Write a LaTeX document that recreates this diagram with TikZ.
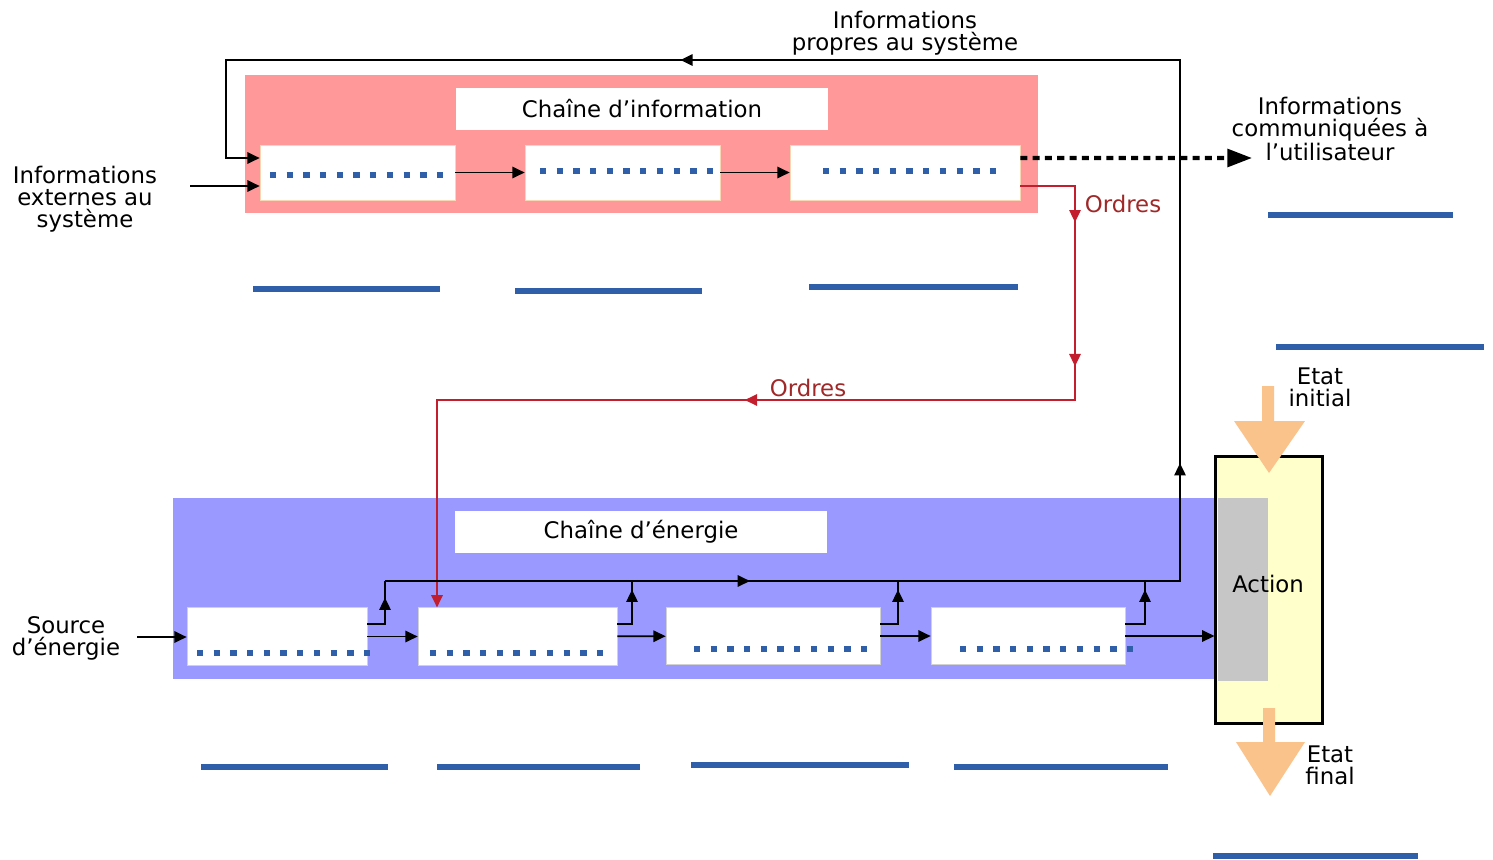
\documentclass[tikz,border=0pt]{standalone}
\usepackage{fontspec}
\setmainfont{DejaVu Sans}
\usetikzlibrary{arrows.meta,decorations.markings}

\definecolor{rose}{RGB}{255,153,153}
\definecolor{lavande}{RGB}{153,153,255}
\definecolor{jaune}{RGB}{255,255,204}
\definecolor{peche}{RGB}{250,195,140}
\definecolor{bleutrait}{RGB}{47,95,168}
\definecolor{rougeordre}{RGB}{195,30,45}
\definecolor{textordre}{RGB}{160,40,40}

\begin{document}
\begin{tikzpicture}[x=0.02cm, y=-0.02cm, >={Triangle[length=7pt,width=6.5pt]},
    boiteinfo/.style={draw={rgb,255:red,250;green,215;blue,180}, fill=white, minimum height=1.1cm, inner sep=0pt},
    boiteener/.style={draw=gray!35, fill=white, minimum height=1.15cm, inner sep=0pt},
    titre/.style={fill=white, minimum width=7.44cm, minimum height=0.84cm, font=\fontsize{13}{12.5}\selectfont},
    texte/.style={align=center, font=\fontsize{13}{12.5}\selectfont},
    pointille/.style={bleutrait, line width=3.6pt, dash pattern=on 3.6pt off 5.9pt},
    trait/.style={bleutrait, line width=3.4pt},
    fleche/.style={->, line width=1pt},
    ordre/.style={rougeordre, line width=1pt},
    flechemilieu/.style={postaction={decorate, decoration={markings, mark=at position #1 with {\arrow{>}}}}}]
    \useasboundingbox (0,0) rectangle (1493,859);

    % Chaine d'information
    \fill[rose] (245,75) rectangle (1038,213);
    \node[titre] (tinfo) at (642,109) {Chaîne d'information};
    \node[boiteinfo, minimum width=3.9cm] (i1) at (357.5,172.5) {};
    \node[boiteinfo, minimum width=3.9cm] (i2) at (622.5,172.5) {};
    \node[boiteinfo, minimum width=4.6cm] (i3) at (905,172.5) {};
    \draw[pointille] (270,175) -- (452,175);
    \draw[pointille] (540,171) -- (718,171);
    \draw[pointille] (823,171) -- (1005,171);

    % Chaine d'energie
    \fill[lavande] (173,498) rectangle (1215,679);
    \node[titre] (tener) at (641,532) {Chaîne d'énergie};
    \node[boiteener, minimum width=3.6cm] (e1) at (277,636.5) {};
    \node[boiteener, minimum width=3.98cm] (e2) at (517.5,636.5) {};
    \node[boiteener, minimum width=4.28cm] (e3) at (773,636) {};
    \node[boiteener, minimum width=3.88cm] (e4) at (1028,636) {};
    \draw[pointille] (197,653) -- (372,653);
    \draw[pointille] (430,653) -- (610,653);
    \draw[pointille] (694,649) -- (875,649);
    \draw[pointille] (960,649) -- (1140,649);

    % Action
    \node[draw=black, fill=jaune, line width=1.2pt, minimum width=2.14cm, minimum height=5.34cm, inner sep=0pt] (action) at (1269,590) {};
    \fill[gray!45] (1218,498) rectangle (1268,681);
    \node[texte] (taction) at (1268,584) {Action};
    \fill[peche] (1262,386) -- (1274,386) -- (1274,421) -- (1305,421) -- (1269,473) -- (1234,421) -- (1262,421) -- cycle;
    \fill[peche] (1263,708) -- (1275,708) -- (1275,742) -- (1305,742) -- (1270,796) -- (1236,742) -- (1263,742) -- cycle;

    % Textes
    \node[texte] (infext) at (85,199) {Informations\\externes au\\système};
    \node[texte] (infpropres) at (905,33) {Informations\\propres au système};
    \node[texte] (infutil) at (1330,129) {Informations\\communiquées à\\l'utilisateur};
    \node[texte] (source) at (66,638) {Source\\d'énergie};
    \node[texte] (etatinit) at (1320,387) {Etat\\initial};
    \node[texte] (etatfin) at (1330,765) {Etat\\final};
    \node[texte, textordre] (ordres1) at (1123,204) {Ordres};
    \node[texte, textordre] (ordres2) at (808,388) {Ordres};

    % Fleches de la chaine d'information
    \coordinate (entree) at (190,186);
    \draw[fleche] (entree) -- (entree -| i1.west);
    \draw[fleche] (i1) -- (i2);
    \draw[fleche] (i2) -- (i3);
    \coordinate (sortie) at (1252,158);
    \draw[line width=2.3pt, dash pattern=on 4pt off 3pt, -{Triangle[length=14pt,width=10pt]}] ([yshift=0.29cm]i3.east) -- (sortie);

    % Ordres
    \coordinate (coude) at (1075,400);
    \coordinate (coin) at (437,400);
    \draw[ordre, flechemilieu=1.82cm, flechemilieu=4.7cm, flechemilieu=11.98cm, ->] ([yshift=-0.27cm]i3.east) -| (coude) -- (coin) -- (coin |- e2.north);

    % Fleches de la chaine d'energie
    \coordinate (entreeener) at (137,637);
    \draw[fleche] (entreeener) -- (entreeener -| e1.west);
    \draw[fleche] (e1) -- (e2);
    \draw[fleche] (e2) -- (e3);
    \draw[fleche] (e3) -- (e4);
    \draw[fleche] (e4) -- (e4 -| action.west);

    % Informations propres au systeme
    \coordinate (bus1) at (385,581);
    \coordinate (bus2) at (632,581);
    \coordinate (bus3) at (898,581);
    \coordinate (bus4) at (1145,581);
    \coordinate (busfin) at (1180,581);
    \coordinate (haut1) at (1180,60);
    \coordinate (haut0) at (226,60);
    \draw[line width=1pt, flechemilieu=0.88cm] ([yshift=0.25cm]e1.east) -| (bus1);
    \draw[line width=1pt, flechemilieu=0.98cm] ([yshift=0.25cm]e2.east) -| (bus2);
    \draw[line width=1pt, flechemilieu=1.04cm] ([yshift=0.24cm]e3.east) -| (bus3);
    \draw[line width=1pt, flechemilieu=1.08cm] ([yshift=0.24cm]e4.east) -| (bus4);
    \draw[fleche, flechemilieu=7.3cm, flechemilieu=18.26cm, flechemilieu=36.32cm] (bus1) -- (busfin) -- (haut1) -- (haut0) |- ([yshift=0.29cm]i1.west);

    % Traits a completer
    \foreach \xa/\xb/\yy in {253/440/289, 515/702/291, 809/1018/287, 1268/1453/215, 1276/1484/347,
        201/388/767, 437/640/767, 691/909/765, 954/1168/767, 1213/1418/856}
        \draw[trait] (\xa,\yy) -- (\xb,\yy);
\end{tikzpicture}
\end{document}
